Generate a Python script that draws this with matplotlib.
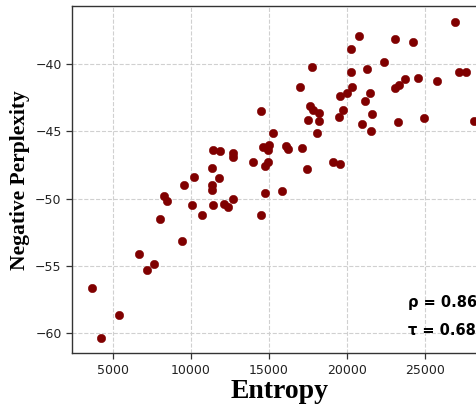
import matplotlib
matplotlib.use("Agg")
import matplotlib.pyplot as plt

entropy = [3671, 4274, 5430, 6714, 7182, 7651, 8017, 8293, 8466, 9429,
           9590, 10060, 10745, 11400, 11400, 11463, 12110, 12400, 12700, 14510,
           14737, 15847, 10218, 11823, 11374, 11463, 11887, 12747, 12747, 14005,
           14929, 14756, 17473, 14628, 14993, 14929, 16104, 16252, 17112, 15270,
           18074, 14500, 17773, 20276, 21303, 16983, 20340, 19570, 20000, 21496,
           21194, 17664, 17837, 18241, 19743, 19486, 21624, 17516, 18222, 20962,
           21560, 19140, 19589, 26907, 23100, 24275, 20790, 22413, 27190, 27612,
           23742, 24596, 25777, 23100, 23376, 23312, 24942, 28125, 20276]
neg_ppl = [-56.69, -60.39, -58.68, -54.14, -55.35, -54.86, -51.53, -49.79, -50.21, -53.14,
           -48.99, -50.48, -51.20, -49.02, -49.33, -50.48, -50.38, -50.63, -50.00, -51.20,
           -49.62, -49.46, -48.42, -48.49, -47.75, -46.39, -46.46, -46.63, -46.89, -47.30,
           -47.30, -47.58, -47.83, -46.19, -46.01, -46.39, -46.07, -46.33, -46.26, -45.10,
           -45.10, -43.47, -40.18, -40.55, -40.37, -41.67, -41.67, -42.34, -42.16, -42.12,
           -42.71, -43.11, -43.41, -43.61, -43.41, -43.95, -43.73, -44.15, -44.25, -44.47,
           -44.95, -47.26, -47.43, -36.87, -38.14, -38.32, -37.87, -39.81, -40.57, -40.60,
           -41.12, -41.04, -41.22, -41.74, -41.54, -44.32, -44.02, -44.23, -38.88]

rho_text = "ρ = 0.867"
tau_text = "τ = 0.680"

fig = plt.figure(figsize=(4.76, 4.07), dpi=100)
ax = fig.add_axes([72/476, 1 - 353.3/407, (486.4 - 72)/476, (353.3 - 6)/407])

ax.scatter(entropy, neg_ppl, s=36, color="#800000", edgecolors="#800000",
           linewidths=0.4, zorder=3)

ax.set_xlim(2400, 28950)
ax.set_ylim(-61.53, -35.66)
ax.set_xticks([5000, 10000, 15000, 20000, 25000])
ax.set_yticks([-60, -55, -50, -45, -40])

ax.grid(True, linestyle="--", color="#d0d0d0", linewidth=0.8, zorder=0)
for sp in ax.spines.values():
    sp.set_color("#333333")
    sp.set_linewidth(1.0)
ax.tick_params(axis="both", labelsize=9, colors="#333333", length=4, width=0.9)
for lbl in ax.get_xticklabels() + ax.get_yticklabels():
    lbl.set_color("#222222")

ax.set_xlabel("Entropy", fontsize=20, fontweight="bold",
              family=["Liberation Serif", "DejaVu Serif"], labelpad=2)
ax.set_ylabel("Negative Perplexity", fontsize=15.5, fontweight="bold",
              family=["Liberation Serif", "DejaVu Serif"], labelpad=4)

ax.text(0.811, 0.146, rho_text, transform=ax.transAxes, fontsize=10.5,
        fontweight="bold", va="center", ha="left", clip_on=False)
ax.text(0.811, 0.067, tau_text, transform=ax.transAxes, fontsize=10.5,
        fontweight="bold", va="center", ha="left", clip_on=False)

fig.savefig("out.png", dpi=100)
